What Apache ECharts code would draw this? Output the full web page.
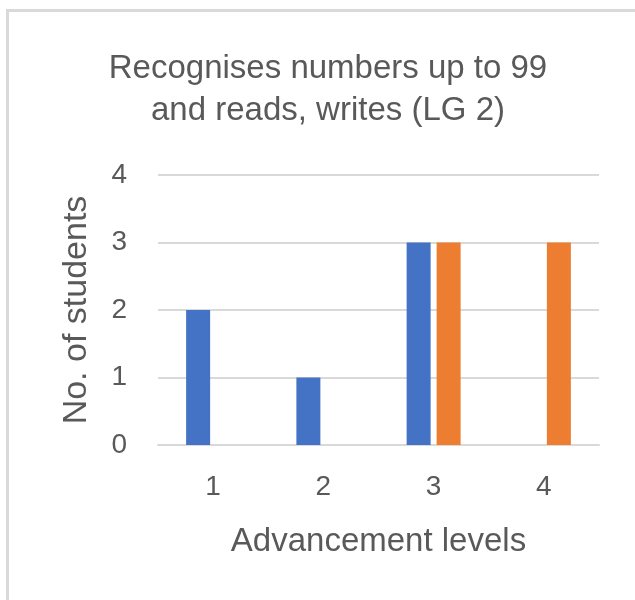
<!DOCTYPE html>
<html>
<head>
<meta charset="utf-8">
<script src="https://cdn.jsdelivr.net/npm/echarts@6/dist/echarts.min.js"></script>
<style>
html,body{margin:0;padding:0;background:#fff;}
#chart{width:635px;height:600px;}
</style>
</head>
<body>
<div id="chart"></div>
<script>
const titleText = "Recognises numbers up to 99\nand reads, writes (LG 2)";
const categories = ["1", "2", "3", "4"];
const series1Values = [2, 1, 3, 0];
const series2Values = [0, 0, 3, 3];
const yTicks = { min: 0, max: 4, interval: 1 };
const xAxisTitle = "Advancement levels";
const yAxisTitle = "No. of students";

const font = "'Liberation Sans', Arial, sans-serif";
const textColor = "#595959";

const chart = echarts.init(document.getElementById('chart'), null, {renderer: 'canvas'});
chart.setOption({
  animation: false,
  backgroundColor: '#ffffff',
  graphic: [{
    type: 'rect',
    silent: true,
    shape: { x: 7.5, y: 10.5, width: 1000, height: 1000 },
    style: { fill: 'none', stroke: '#d9d9d9', lineWidth: 3 }
  }],
  title: {
    text: titleText,
    left: 323,
    top: 43,
    textAlign: 'center',
    textStyle: {
      fontFamily: font, fontSize: 33, fontWeight: 'normal',
      color: textColor, lineHeight: 42, align: 'center'
    }
  },
  grid: { left: 158, right: 36, top: 175, bottom: 155, containLabel: false },
  xAxis: {
    type: 'category',
    data: categories,
    name: xAxisTitle,
    nameLocation: 'middle',
    nameGap: 80,
    nameTextStyle: { fontFamily: font, fontSize: 33, color: textColor },
    axisLine: { show: true, lineStyle: { color: '#d9d9d9', width: 2 } },
    axisTick: { show: false },
    axisLabel: { fontFamily: font, fontSize: 28, color: textColor, margin: 28 }
  },
  yAxis: {
    type: 'value',
    min: yTicks.min, max: yTicks.max, interval: yTicks.interval,
    name: yAxisTitle,
    nameLocation: 'middle',
    nameGap: 64,
    nameTextStyle: { fontFamily: font, fontSize: 34, color: textColor },
    axisLine: { show: false },
    axisTick: { show: false },
    axisLabel: { fontFamily: font, fontSize: 28, color: textColor, margin: 31 },
    splitLine: { show: true, lineStyle: { color: '#d9d9d9', width: 2 } }
  },
  series: [
    {
      name: 'Series 1', type: 'bar', data: series1Values,
      barWidth: 24, barGap: '25%',
      itemStyle: { color: '#4472C4' }
    },
    {
      name: 'Series 2', type: 'bar', data: series2Values,
      barWidth: 24, barGap: '25%',
      itemStyle: { color: '#ED7D31' }
    }
  ]
});
</script>
</body>
</html>
